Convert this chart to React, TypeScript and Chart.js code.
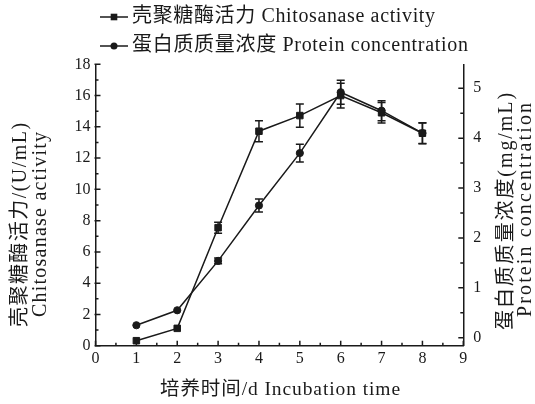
import React, { useEffect, useRef } from 'react';
import { Chart, registerables } from 'chart.js';

Chart.register(...registerables);

// ---- data ----
const days = [1, 2, 3, 4, 5, 6, 7, 8];
const chitosanase = [0.32, 1.11, 7.55, 13.72, 14.72, 16.0, 14.9, 13.59];
const chitosanaseErr = [0, 0, 0.35, 0.67, 0.74, 0.79, 0.66, 0.66];
const protein = [0.25, 0.55, 1.54, 2.65, 3.7, 4.92, 4.55, 4.1];
const proteinErr = [0, 0, 0.06, 0.13, 0.18, 0.24, 0.2, 0.21];
const xTicks = [0, 1, 2, 3, 4, 5, 6, 7, 8, 9];
const leftTicks = [0, 2, 4, 6, 8, 10, 12, 14, 16, 18];
const rightTicks = [0, 1, 2, 3, 4, 5];
const legendLabels = ['壳聚糖酶活力 Chitosanase activity', '蛋白质质量浓度 Protein concentration'];
const leftTitle = ['壳聚糖酶活力/(U/mL)', 'Chitosanase activity'];
const rightTitle = ['蛋白质质量浓度(mg/mL)', 'Protein concentration'];
const xTitle = '培养时间/d Incubation time';

const INK = '#1a1a1a';
const FONT = "'Liberation Serif', 'Noto Sans CJK SC', serif";

function spacedText(
  ctx: CanvasRenderingContext2D,
  text: string,
  x: number,
  y: number,
  target: number,
  size: number,
  angle: number,
  anchor: 'center' | 'left'
) {
  ctx.save();
  ctx.font = `${size}px ${FONT}`;
  ctx.fillStyle = INK;
  ctx.textBaseline = 'middle';
  ctx.textAlign = 'left';
  (ctx as any).letterSpacing = '0px';
  const w0 = ctx.measureText(text).width;
  const n = Array.from(text).length;
  const sp = n > 1 ? (target - w0) / (n - 1) : 0;
  (ctx as any).letterSpacing = sp.toFixed(2) + 'px';
  ctx.translate(x, y);
  ctx.rotate(angle);
  const start = anchor === 'center' ? -target / 2 : 0;
  ctx.fillText(text, start, 0);
  ctx.restore();
}

function midpoints(arr: number[]) {
  const out: number[] = [];
  for (let i = 0; i < arr.length - 1; i++) out.push((arr[i] + arr[i + 1]) / 2);
  return out;
}

const errorBarPlugin = {
  id: 'errorBars',
  beforeDatasetsDraw(chart: any) {
    const ctx = chart.ctx as CanvasRenderingContext2D;
    const xs = chart.scales.x;
    const sets = [
      { vals: chitosanase, errs: chitosanaseErr, scale: chart.scales.y },
      { vals: protein, errs: proteinErr, scale: chart.scales.y1 },
    ];
    ctx.save();
    ctx.strokeStyle = INK;
    ctx.lineWidth = 1.5;
    sets.forEach((s) => {
      s.vals.forEach((v, i) => {
        const e = s.errs[i];
        if (!e) return;
        const px = xs.getPixelForValue(days[i]);
        const t = s.scale.getPixelForValue(v + e);
        const b = s.scale.getPixelForValue(v - e);
        ctx.beginPath();
        ctx.moveTo(px, t);
        ctx.lineTo(px, b);
        ctx.moveTo(px - 4, t);
        ctx.lineTo(px + 4, t);
        ctx.moveTo(px - 4, b);
        ctx.lineTo(px + 4, b);
        ctx.stroke();
      });
    });
    ctx.restore();
  },
};

const decorPlugin = {
  id: 'decor',
  afterDraw(chart: any) {
    const ctx = chart.ctx as CanvasRenderingContext2D;
    const { x, y, y1 } = chart.scales;
    const area = chart.chartArea;
    ctx.save();
    ctx.strokeStyle = INK;
    ctx.lineWidth = 1.5;
    ctx.beginPath();
    // x ticks (inward)
    xTicks.forEach((v) => {
      const p = x.getPixelForValue(v);
      ctx.moveTo(p, area.bottom);
      ctx.lineTo(p, area.bottom - 5);
    });
    midpoints(xTicks).forEach((v) => {
      const p = x.getPixelForValue(v);
      ctx.moveTo(p, area.bottom);
      ctx.lineTo(p, area.bottom - 3);
    });
    // left ticks
    leftTicks.forEach((v) => {
      const p = y.getPixelForValue(v);
      ctx.moveTo(area.left - 1, p);
      ctx.lineTo(area.left + 5, p);
    });
    midpoints(leftTicks).forEach((v) => {
      const p = y.getPixelForValue(v);
      ctx.moveTo(area.left, p);
      ctx.lineTo(area.left + 3, p);
    });
    // right ticks
    rightTicks.forEach((v) => {
      const p = y1.getPixelForValue(v);
      ctx.moveTo(area.right, p);
      ctx.lineTo(area.right - 5, p);
    });
    midpoints(rightTicks).forEach((v) => {
      const p = y1.getPixelForValue(v);
      ctx.moveTo(area.right, p);
      ctx.lineTo(area.right - 3, p);
    });
    ctx.stroke();

    // legend
    const rows = [17, 46];
    rows.forEach((ry, i) => {
      ctx.beginPath();
      ctx.moveTo(100, ry);
      ctx.lineTo(128, ry);
      ctx.stroke();
      ctx.fillStyle = INK;
      if (i === 0) {
        ctx.fillRect(114 - 3.3, ry - 3.3, 6.6, 6.6);
      } else {
        ctx.beginPath();
        ctx.arc(114, ry, 3.5, 0, Math.PI * 2);
        ctx.fill();
      }
    });
    ctx.restore();
    spacedText(ctx, legendLabels[0], 132, rows[0], 303, 20, 0, 'left');
    spacedText(ctx, legendLabels[1], 132, rows[1], 336, 20, 0, 'left');

    // axis titles
    spacedText(ctx, leftTitle[0], 21, 225, 204, 20, -Math.PI / 2, 'center');
    spacedText(ctx, leftTitle[1], 41, 224.5, 185, 20, -Math.PI / 2, 'center');
    spacedText(ctx, rightTitle[0], 507, 211.5, 237, 20, -Math.PI / 2, 'center');
    spacedText(ctx, rightTitle[1], 526, 210, 214, 20, -Math.PI / 2, 'center');
    spacedText(ctx, xTitle, 280, 390, 240, 19.5, 0, 'center');
  },
};

export default function App() {
  const ref = useRef<HTMLCanvasElement | null>(null);

  useEffect(() => {
    if (!ref.current) return;
    const tickFont = { family: FONT, size: 16 };
    const chart = new Chart(ref.current, {
      type: 'line',
      data: {
        datasets: [
          {
            label: legendLabels[0],
            data: days.map((d, i) => ({ x: d, y: chitosanase[i] })),
            yAxisID: 'y',
            borderColor: INK,
            borderWidth: 1.5,
            pointStyle: 'rect',
            pointRadius: 4.6,
            pointBackgroundColor: INK,
            pointBorderColor: INK,
            pointBorderWidth: 1,
            tension: 0,
          },
          {
            label: legendLabels[1],
            data: days.map((d, i) => ({ x: d, y: protein[i] })),
            yAxisID: 'y1',
            borderColor: INK,
            borderWidth: 1.5,
            pointStyle: 'circle',
            pointRadius: 3.6,
            pointBackgroundColor: INK,
            pointBorderColor: INK,
            pointBorderWidth: 1,
            tension: 0,
          },
        ],
      },
      options: {
        animation: false,
        responsive: false,
        devicePixelRatio: 1,
        layout: { padding: { top: 64.3, left: 0, right: 0, bottom: 0 } },
        plugins: {
          legend: { display: false },
          tooltip: { enabled: false },
        },
        scales: {
          x: {
            type: 'linear',
            position: 'bottom',
            min: 0,
            max: 9,
            afterBuildTicks: (s: any) => {
              s.ticks = xTicks.map((v) => ({ value: v }));
            },
            afterFit: (s: any) => {
              s.height = 58.3;
            },
            ticks: { font: tickFont, color: INK, padding: 3, maxRotation: 0, autoSkip: false },
            grid: { display: false, drawTicks: false },
            border: { display: true, color: INK, width: 1.5 },
          },
          y: {
            type: 'linear',
            position: 'left',
            min: 0,
            max: 18,
            afterBuildTicks: (s: any) => {
              s.ticks = leftTicks.map((v) => ({ value: v }));
            },
            afterFit: (s: any) => {
              s.width = 95.5;
            },
            ticks: { font: tickFont, color: INK, padding: 5, autoSkip: false },
            grid: { display: false, drawTicks: false },
            border: { display: true, color: INK, width: 1.5 },
          },
          y1: {
            type: 'linear',
            position: 'right',
            min: -0.16,
            max: 5.48,
            afterBuildTicks: (s: any) => {
              s.ticks = rightTicks.map((v) => ({ value: v }));
            },
            afterFit: (s: any) => {
              s.width = 71.7;
            },
            ticks: { font: tickFont, color: INK, padding: 10, autoSkip: false },
            grid: { display: false, drawTicks: false },
            border: { display: true, color: INK, width: 1.5 },
          },
        },
      } as any,
      plugins: [errorBarPlugin, decorPlugin],
    });
    return () => chart.destroy();
  }, []);

  return (
    <div style={{ position: 'fixed', left: 0, top: 0, width: 535, height: 404, background: '#fff' }}>
      <canvas ref={ref} width={535} height={404} style={{ display: 'block' }} />
    </div>
  );
}
